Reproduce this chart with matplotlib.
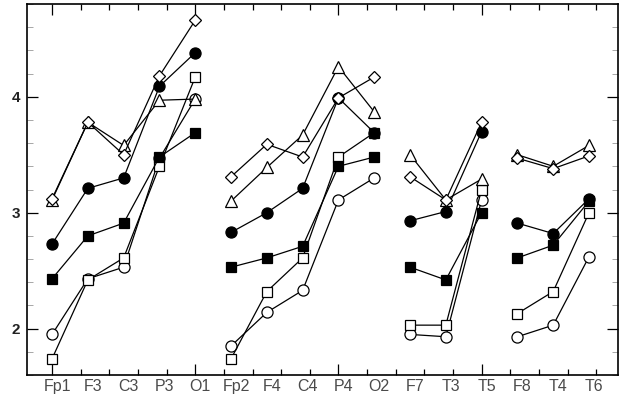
import numpy as np
import matplotlib
matplotlib.use('Agg')
import matplotlib.pyplot as plt
from matplotlib.transforms import ScaledTranslation

plt.rcParams['font.family'] = ['Liberation Sans', 'DejaVu Sans']

sites = ['Fp1', 'F3', 'C3', 'P3', 'O1',
         'Fp2', 'F4', 'C4', 'P4', 'O2',
         'F7', 'T3', 'T5',
         'F8', 'T4', 'T6']
groups = [(0, 5), (5, 10), (10, 13), (13, 16)]

diamond = [3.12, 3.78, 3.50, 4.18, 4.66,
           3.31, 3.59, 3.48, 3.99, 4.17,
           3.31, 3.11, 3.78,
           3.47, 3.38, 3.49]
triangle = [3.11, 3.78, 3.58, 3.97, 3.98,
            3.10, 3.39, 3.67, 4.26, 3.87,
            3.50, 3.11, 3.29,
            3.50, 3.40, 3.58]
circle_filled = [2.73, 3.21, 3.30, 4.09, 4.38,
                 2.83, 3.00, 3.21, 3.99, 3.69,
                 2.93, 3.01, 3.70,
                 2.91, 2.82, 3.12]
square_filled = [2.43, 2.80, 2.91, 3.48, 3.69,
                 2.53, 2.61, 2.71, 3.40, 3.48,
                 2.53, 2.42, 3.00,
                 2.61, 2.72, 3.10]
square_open = [1.74, 2.42, 2.61, 3.40, 4.17,
               1.74, 2.32, 2.61, 3.48, 3.69,
               2.03, 2.03, 3.20,
               2.13, 2.32, 3.00]
circle_open = [1.95, 2.43, 2.53, 3.47, 3.98,
               1.85, 2.14, 2.33, 3.11, 3.30,
               1.95, 1.93, 3.11,
               1.93, 2.03, 2.62]

series = [
    (circle_open, 'o', 'white', 8),
    (square_open, 's', 'white', 7.5),
    (square_filled, 's', 'black', 7.5),
    (circle_filled, 'o', 'black', 8),
    (triangle, '^', 'white', 9),
    (diamond, 'D', 'white', 6.5),
]

fig = plt.figure(figsize=(6.26, 3.95), dpi=100)
ax = fig.add_axes([27/626, 20/395, 591/626, 371/395])

x = np.arange(len(sites))
for vals, m, fc, ms in series:
    vals = np.array(vals)
    for a, b in groups:
        ax.plot(x[a:b], vals[a:b], color='black', lw=0.9, marker=m,
                markerfacecolor=fc, markeredgecolor='black',
                markeredgewidth=0.9, markersize=ms)

ax.set_xlim(-0.70, 15.81)
ax.set_ylim(1.60, 4.80)

# x: ticks every 0.8, long ones every 4; site names sit at the points
ax.set_xticks([0, 4, 8, 12])
ax.set_xticks(np.arange(0, 15.3, 0.8), minor=True)
ax.set_xticklabels([])
ax.tick_params(axis='x', which='both', direction='in', top=True, bottom=True)
ax.tick_params(axis='x', which='major', length=8, width=0.9)
ax.tick_params(axis='x', which='minor', length=4, width=0.9)
off = ScaledTranslation(5/100, 0, fig.dpi_scale_trans)
for xi, name in zip(x, sites):
    t = ax.text(xi, -0.042, name, transform=ax.get_xaxis_transform(),
                ha='center', va='baseline', fontsize=11.5, color='#4a4a4a')
    t.set_transform(t.get_transform() + off)

ax.set_yticks([2, 3, 4])
ax.set_yticks(np.arange(1.6, 4.81, 0.2), minor=True)
ax.tick_params(axis='y', which='both', direction='in', left=True, right=True)
ax.tick_params(axis='y', which='major', length=8, width=0.9, labelsize=11, pad=5)
ax.tick_params(axis='y', which='minor', length=4, width=0.6, color='#999999')
for lab in ax.get_yticklabels():
    lab.set_fontweight('bold')
    lab.set_color('#222222')

for sp in ax.spines.values():
    sp.set_linewidth(1.2)

fig.savefig('out.png', dpi=100)
